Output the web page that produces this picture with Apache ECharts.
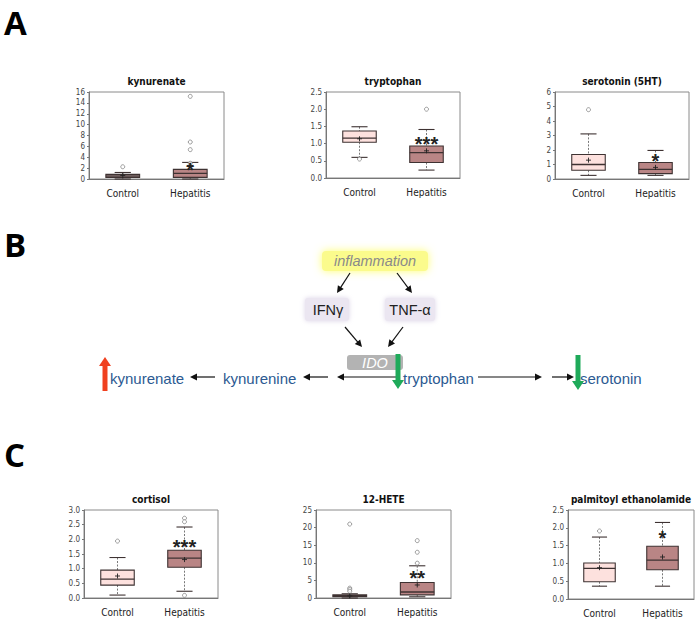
<!DOCTYPE html>
<html><head><meta charset="utf-8">
<script src="https://cdn.jsdelivr.net/npm/echarts@6/dist/echarts.min.js"></script>
<style>html,body{margin:0;padding:0;background:#fff}#c{width:698px;height:624px}</style>
</head><body><div id="c"></div><script>
// ---------- DATA ----------
const categories = ['Control', 'Hepatitis'];

// box: [min whisker, Q1, median, Q3, max whisker]
const kynurenateBox = [[0.0, 0.3, 0.55, 0.85, 1.2], [0.0, 0.3, 1.04, 1.77, 3.05]];
const kynurenateMean = [0.65, 2.5];
const kynurenateOutliers = [[0, 2.25], [1, 15.2], [1, 6.8], [1, 5.4], [1, 2.9]];
const kynurenateTicks = ['0', '2', '4', '6', '8', '10', '12', '14', '16'];
const kynurenateSig = [[1, 2.6, '*']];

const tryptophanBox = [[0.6, 1.04, 1.16, 1.365, 1.49], [0.23, 0.45, 0.74, 0.93, 1.41]];
const tryptophanMean = [1.14, 0.79];
const tryptophanOutliers = [[0, 0.55], [1, 2.0]];
const tryptophanTicks = ['0.0', '0.5', '1.0', '1.5', '2.0', '2.5'];
const tryptophanSig = [[1, 1.12, '***']];

const serotoninBox = [[0.25, 0.6, 1.0, 1.69, 3.11], [0.25, 0.37, 0.66, 1.14, 1.97]];
const serotoninMean = [1.3, 0.8];
const serotoninOutliers = [[0, 4.78]];
const serotoninTicks = ['0', '1', '2', '3', '4', '5', '6'];
const serotoninSig = [[1, 1.58, '*']];

const cortisolBox = [[0.1, 0.44, 0.645, 0.95, 1.38], [0.23, 1.05, 1.36, 1.63, 2.42]];
const cortisolMean = [0.75, 1.31];
const cortisolOutliers = [[0, 1.94], [1, 2.72], [1, 2.6], [1, 0.09]];
const cortisolTicks = ['0.0', '0.5', '1.0', '1.5', '2.0', '2.5', '3.0'];
const cortisolSig = [[1, 1.9, '***']];

const heteBox = [[0.0, 0.38, 0.66, 0.94, 1.2], [0.35, 0.9, 1.7, 4.4, 9.15]];
const heteMean = [0.6, 3.7];
const heteOutliers = [[0, 21.0], [0, 2.8], [0, 2.4], [0, 1.9], [1, 16.3], [1, 13.0], [1, 9.9]];
const heteTicks = ['0', '5', '10', '15', '20', '25'];
const heteSig = [[1, 7.1, '**']];

const peaBox = [[0.36, 0.485, 0.86, 1.01, 1.74], [0.36, 0.82, 1.09, 1.48, 2.15]];
const peaMean = [0.88, 1.18];
const peaOutliers = [[0, 1.91]];
const peaTicks = ['0.0', '0.5', '1.0', '1.5', '2.0', '2.5'];
const peaSig = [[1, 1.85, '*']];

// ---------- LAYOUT ----------
const panels = [
  {title: 'kynurenate', box: kynurenateBox, mean: kynurenateMean, out: kynurenateOutliers, ticks: kynurenateTicks, sig: kynurenateSig, rect: [89, 92, 135, 87]},
  {title: 'tryptophan', box: tryptophanBox, mean: tryptophanMean, out: tryptophanOutliers, ticks: tryptophanTicks, sig: tryptophanSig, rect: [326, 92, 134, 86]},
  {title: 'serotonin (5HT)', box: serotoninBox, mean: serotoninMean, out: serotoninOutliers, ticks: serotoninTicks, sig: serotoninSig, rect: [555, 92, 134, 87]},
  {title: 'cortisol', box: cortisolBox, mean: cortisolMean, out: cortisolOutliers, ticks: cortisolTicks, sig: cortisolSig, rect: [84, 510, 134, 88]},
  {title: '12-HETE', box: heteBox, mean: heteMean, out: heteOutliers, ticks: heteTicks, sig: heteSig, rect: [316, 510, 135, 88]},
  {title: 'palmitoyl ethanolamide', box: peaBox, mean: peaMean, out: peaOutliers, ticks: peaTicks, sig: peaSig, rect: [568, 510, 126, 89]}
];

const NARROW = "'Liberation Sans Narrow', 'DejaVu Sans Condensed', 'Liberation Sans', sans-serif";
const boxFills = ['#fde1de', '#b98585'];
const boxStroke = '#3e3232';

function renderBox(params, api) {
  const i = api.value(0);
  const p = [1, 2, 3, 4, 5].map(k => api.coord([i, api.value(k)]));
  const cx = p[0][0];
  const band = api.size([1, 0])[0];
  const bw = band * 0.5, cw = band * 0.24;
  const dash = {stroke: '#555', lineWidth: 0.8, lineDash: [2, 1.5]};
  const solid = {stroke: boxStroke, lineWidth: 1.1};
  return {type: 'group', children: [
    {type: 'line', shape: {x1: cx, y1: p[4][1], x2: cx, y2: p[3][1]}, style: dash},
    {type: 'line', shape: {x1: cx, y1: p[1][1], x2: cx, y2: p[0][1]}, style: dash},
    {type: 'line', shape: {x1: cx - cw / 2, y1: p[4][1], x2: cx + cw / 2, y2: p[4][1]}, style: solid},
    {type: 'line', shape: {x1: cx - cw / 2, y1: p[0][1], x2: cx + cw / 2, y2: p[0][1]}, style: solid},
    {type: 'rect', shape: {x: cx - bw / 2, y: p[3][1], width: bw, height: p[1][1] - p[3][1]}, style: {fill: boxFills[i], stroke: boxStroke, lineWidth: 1.1}},
    {type: 'line', shape: {x1: cx - bw / 2, y1: p[2][1], x2: cx + bw / 2, y2: p[2][1]}, style: {stroke: boxStroke, lineWidth: 1.3}}
  ]};
}
function renderMean(params, api) {
  const c = api.coord([api.value(0), api.value(1)]);
  const s = 2.5;
  return {type: 'group', children: [
    {type: 'line', shape: {x1: c[0] - s, y1: c[1], x2: c[0] + s, y2: c[1]}, style: {stroke: '#222', lineWidth: 0.9}},
    {type: 'line', shape: {x1: c[0], y1: c[1] - s, x2: c[0], y2: c[1] + s}, style: {stroke: '#222', lineWidth: 0.9}}
  ]};
}
const panelSigText = {};
function renderSig(params, api) {
  const c = api.coord([api.value(0), api.value(1)]);
  const txt = panelSigText[params.seriesName][params.dataIndex];
  return {type: 'text', x: c[0], y: c[1] + 5,
    style: {text: txt, textAlign: 'center', textVerticalAlign: 'middle', fontSize: 20, fontWeight: 'bold', fontFamily: "'Liberation Sans', sans-serif", fill: '#222'}};
}

const grids = [], xAxes = [], yAxes = [], series = [], graphics = [];
panels.forEach((pn, k) => {
  const [l, t, w, h] = pn.rect;
  grids.push({left: l, top: t, width: w, height: h, show: true, borderColor: '#8a8a8a', borderWidth: 1, backgroundColor: 'transparent', containLabel: false});
  xAxes.push({type: 'category', gridIndex: k, data: categories, boundaryGap: true,
    axisLine: {lineStyle: {color: '#777', width: 1}}, axisTick: {show: false},
    axisLabel: {fontSize: 10, color: '#222', margin: 9, fontFamily: NARROW}});
  const tk = pn.ticks.map(Number);
  const dec = (pn.ticks[1].split('.')[1] || '').length;
  yAxes.push({type: 'value', gridIndex: k, min: tk[0], max: tk[tk.length - 1], interval: tk[1] - tk[0],
    axisLine: {show: true, lineStyle: {color: '#777', width: 1}},
    axisTick: {show: true, length: 2, lineStyle: {color: '#777'}},
    splitLine: {show: false},
    axisLabel: {fontSize: 8, color: '#444', margin: 4, fontFamily: NARROW, formatter: v => v.toFixed(dec)}});
  series.push({type: 'custom', name: 'box' + k, xAxisIndex: k, yAxisIndex: k, renderItem: renderBox,
    encode: {x: 0, y: [1, 2, 3, 4, 5]}, data: pn.box.map((b, i) => [i].concat(b)), silent: true, z: 2});
  series.push({type: 'scatter', name: 'out' + k, xAxisIndex: k, yAxisIndex: k, symbol: 'circle', symbolSize: 4,
    itemStyle: {color: '#fff', borderColor: '#777', borderWidth: 0.9}, data: pn.out, silent: true, z: 3});
  series.push({type: 'custom', name: 'mean' + k, xAxisIndex: k, yAxisIndex: k, renderItem: renderMean,
    encode: {x: 0, y: 1}, data: pn.mean.map((m, i) => [i, m]), silent: true, z: 4});
  panelSigText['sig' + k] = pn.sig.map(s => s[2]);
  series.push({type: 'custom', name: 'sig' + k, xAxisIndex: k, yAxisIndex: k, renderItem: renderSig,
    encode: {x: 0, y: 1}, data: pn.sig.map(s => [s[0], s[1]]), silent: true, z: 5});
  graphics.push({type: 'text', x: l + w / 2, y: t - 11,
    style: {text: pn.title, textAlign: 'center', textVerticalAlign: 'middle', fontSize: 10, fontWeight: 'bold', fontFamily: NARROW, fill: '#111'}});
});

// ---------- PANEL LETTERS ----------
const LETTER_FONT = "'Open Sans', 'Liberation Sans', sans-serif";
[['A', 4, 22], ['B', 4, 244], ['C', 4, 454]].forEach(([t, x, y]) => {
  graphics.push({type: 'text', x: x, y: y, style: {text: t, textVerticalAlign: 'middle', fontSize: 33, fontWeight: 'bold', fontFamily: LETTER_FONT, fill: '#000'}});
});

// ---------- DIAGRAM (B) ----------
function arrow(x1, y1, x2, y2, color, lw, hl, hw) {
  const dx = x2 - x1, dy = y2 - y1, L = Math.hypot(dx, dy);
  const ux = dx / L, uy = dy / L;
  const bx = x2 - ux * hl, by = y2 - uy * hl;
  return [
    {type: 'line', shape: {x1: x1, y1: y1, x2: bx + ux * 0.5, y2: by + uy * 0.5}, style: {stroke: color, lineWidth: lw}},
    {type: 'polygon', shape: {points: [[x2, y2], [bx - uy * hw, by + ux * hw], [bx + uy * hw, by - ux * hw]]}, style: {fill: color}}
  ];
}
const DIA_FONT = "'Liberation Sans', Arial, sans-serif";
const blue = '#2c5a92';
graphics.push(
  {type: 'rect', shape: {x: 322, y: 251, width: 106, height: 20, r: 4}, style: {fill: '#fbfb8c', shadowBlur: 8, shadowColor: '#ffff70'}},
  {type: 'text', x: 375, y: 261, style: {text: 'inflammation', textAlign: 'center', textVerticalAlign: 'middle', fontSize: 14.5, fontStyle: 'italic', fontFamily: DIA_FONT, fill: '#8a8a8a'}},
  {type: 'rect', shape: {x: 305, y: 298, width: 44, height: 23, r: 3}, style: {fill: '#ebe6f1', shadowBlur: 5, shadowColor: '#dcd4e8'}},
  {type: 'text', x: 328, y: 310, style: {text: 'IFNγ', textAlign: 'center', textVerticalAlign: 'middle', fontSize: 14.5, fontFamily: DIA_FONT, fill: '#222'}},
  {type: 'rect', shape: {x: 385, y: 298, width: 50, height: 23, r: 3}, style: {fill: '#ebe6f1', shadowBlur: 5, shadowColor: '#dcd4e8'}},
  {type: 'text', x: 410, y: 310, style: {text: 'TNF-α', textAlign: 'center', textVerticalAlign: 'middle', fontSize: 14.5, fontFamily: DIA_FONT, fill: '#222'}},
  {type: 'rect', shape: {x: 347, y: 355, width: 56, height: 15, r: 3}, style: {fill: '#b3b3b3'}},
  {type: 'text', x: 375, y: 363, style: {text: 'IDO', textAlign: 'center', textVerticalAlign: 'middle', fontSize: 14.5, fontStyle: 'italic', fontFamily: DIA_FONT, fill: '#fff'}},
  {type: 'text', x: 110, y: 378, style: {text: 'kynurenate', textVerticalAlign: 'middle', fontSize: 15, fontFamily: DIA_FONT, fill: blue}},
  {type: 'text', x: 223, y: 378, style: {text: 'kynurenine', textVerticalAlign: 'middle', fontSize: 15, fontFamily: DIA_FONT, fill: blue}},
  {type: 'text', x: 403, y: 378, style: {text: 'tryptophan', textVerticalAlign: 'middle', fontSize: 15, fontFamily: DIA_FONT, fill: blue}},
  {type: 'text', x: 580, y: 378, style: {text: 'serotonin', textVerticalAlign: 'middle', fontSize: 15, fontFamily: DIA_FONT, fill: blue}}
);
const K = '#111';
[].concat(
  arrow(350, 273, 337, 293, K, 1.2, 7, 3.5),
  arrow(397, 273, 412, 293, K, 1.2, 7, 3.5),
  arrow(345, 327, 362, 347, K, 1.2, 7, 3.5),
  arrow(403, 327, 388, 347, K, 1.2, 7, 3.5),
  arrow(215, 377, 190, 377, K, 1.2, 7, 3.5),
  arrow(328, 377, 303, 377, K, 1.2, 7, 3.5),
  arrow(398, 377, 337, 377, K, 1.2, 7, 3.5),
  arrow(478, 377, 542, 377, K, 1.2, 7, 3.5),
  arrow(552, 377, 574, 377, K, 1.2, 7, 3.5),
  arrow(105, 391, 105, 357, '#f0401f', 5, 9, 6),
  arrow(398, 354, 398, 389, '#1faa5a', 5, 9, 6),
  arrow(578, 355, 578, 390, '#1faa5a', 5, 9, 6)
).forEach(e => graphics.push(e));

const chart = echarts.init(document.getElementById('c'), null, {renderer: 'svg'});
chart.setOption({
  animation: false,
  backgroundColor: '#fff',
  grid: grids, xAxis: xAxes, yAxis: yAxes, series: series,
  graphic: {elements: graphics}
});
</script></body></html>
